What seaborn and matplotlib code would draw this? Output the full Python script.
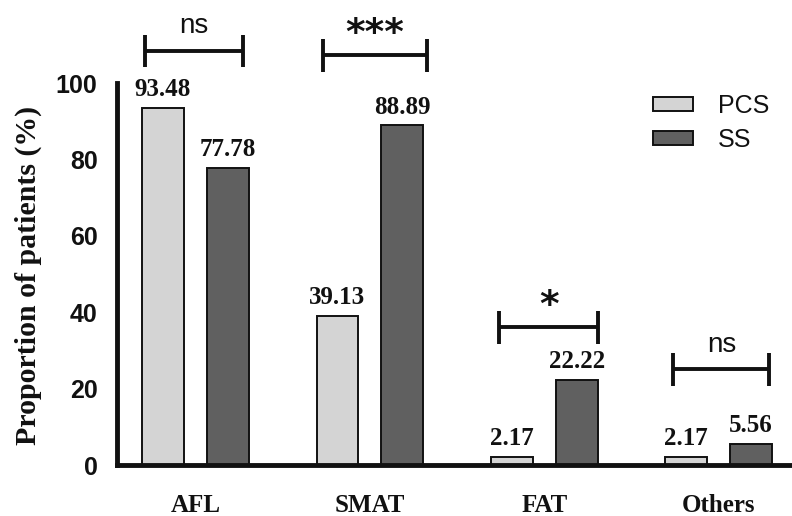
import matplotlib
matplotlib.use("Agg")
import matplotlib.pyplot as plt
import seaborn as sns
import pandas as pd

categories = ["AFL", "SMAT", "FAT", "Others"]
pcs_values = [93.48, 39.13, 2.17, 2.17]
ss_values = [77.78, 88.89, 22.22, 5.56]
groups = ["PCS", "SS"]
group_colors = ["#d4d4d4", "#606060"]
significance = ["ns", "***", "*", "ns"]
bracket_heights = [108.4, 107.3, 36.1, 25.1]
yticks = [0, 20, 40, 60, 80, 100]

df = pd.DataFrame({
    "category": categories * 2,
    "group": ["PCS"] * 4 + ["SS"] * 4,
    "value": pcs_values + ss_values,
})

sns.set_style("white")
plt.rcParams["font.family"] = ["Liberation Sans", "DejaVu Sans"]
plt.rcParams["text.color"] = "#111111"
plt.rcParams["xtick.color"] = "#111111"
plt.rcParams["ytick.color"] = "#111111"
serif = ["Liberation Serif", "DejaVu Serif"]
ink = "#111111"

fig = plt.figure(figsize=(7.92, 5.16), dpi=100)
ax = fig.add_axes([0.1477, 0.0988, 0.8523, 0.7403])

sns.barplot(data=df, x="category", y="value", hue="group", order=categories,
            hue_order=groups, palette=group_colors, width=0.744, gap=0.355,
            edgecolor=ink, linewidth=1.4, ax=ax)

for container in ax.containers:
    ax.bar_label(container, fmt="%.2f", padding=5, fontsize=18,
                 fontweight="bold", family=serif, color=ink)

# significance brackets
bracket_x = [(-0.29, 0.27), (-0.27, 0.33), (-0.26, 0.31), (-0.26, 0.29)]
for i, (label, h, (x0, x1)) in enumerate(zip(significance, bracket_heights, bracket_x)):
    dy = 4.3
    kw = dict(color=ink, lw=2.8, clip_on=False, solid_capstyle="butt")
    ax.plot([i + x0, i + x1], [h, h], **kw)
    ax.plot([i + x0, i + x0], [h - dy, h + dy], **kw)
    ax.plot([i + x1, i + x1], [h - dy, h + dy], **kw)
    xm = i + (x0 + x1) / 2
    if label == "ns":
        ax.text(xm, h + 4.6, label, ha="center", va="baseline", fontsize=20,
                color=ink, clip_on=False)
    else:
        ax.text(xm, h + 2.9, label, ha="center", va="baseline", fontsize=27,
                fontweight="bold", family="DejaVu Sans", color=ink,
                clip_on=False)

ax.set_xlim(-0.45, 3.42)
ax.set_ylim(0, 100)
ax.set_yticks(yticks)
ax.set_xlabel("")
ax.set_ylabel("Proportion of patients (%)", fontsize=21.5, fontweight="bold",
              family=serif, color=ink)
ax.yaxis.set_label_coords(-0.111, 0.495)
sns.despine(ax=ax)
for s in ["left", "bottom"]:
    ax.spines[s].set_linewidth(3.5)
    ax.spines[s].set_color(ink)
ax.tick_params(axis="y", direction="out", length=8, width=3.5, labelsize=18, pad=6)
ax.tick_params(axis="x", direction="out", length=10, width=3.5, labelsize=18, pad=11)
for t in ax.get_yticklabels():
    t.set_fontweight("bold")
for t in ax.get_xticklabels():
    t.set_fontweight("bold")
    t.set_family(serif)

leg = ax.legend(loc="upper left", bbox_to_anchor=(0.794, 0.971), frameon=False,
                fontsize=18, handlelength=1.6, handleheight=0.48,
                handletextpad=1.0, labelspacing=0.4, borderpad=0,
                borderaxespad=0)
for p in leg.get_patches():
    p.set_edgecolor(ink)
    p.set_linewidth(1.4)

fig.savefig("out.png", dpi=100)
